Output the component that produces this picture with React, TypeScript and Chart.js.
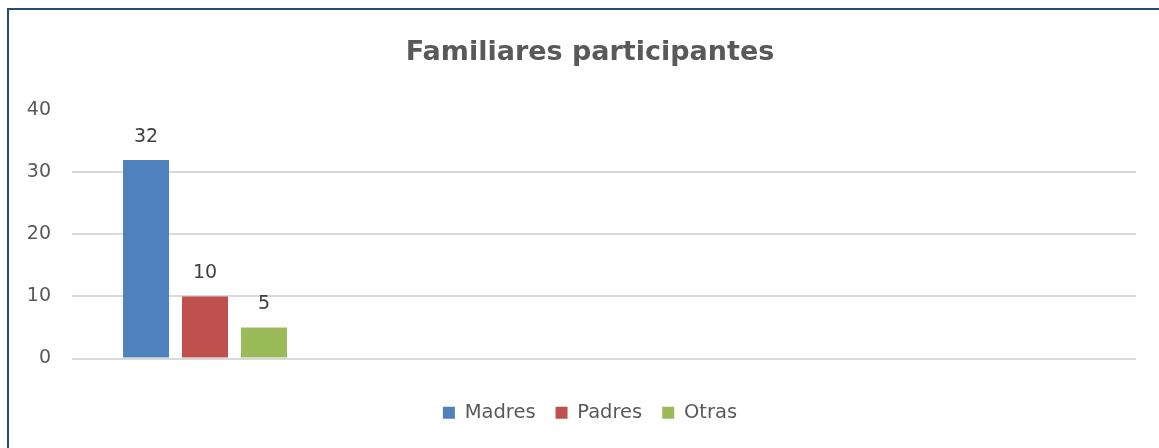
import React, { useEffect, useRef } from "react";
import { Chart, registerables } from "chart.js";

Chart.register(...registerables);

const categories = ["", "", "", ""];
const seriesNames = ["Madres", "Padres", "Otras"];
const madres = [32, null, null, null];
const padres = [10, null, null, null];
const otras = [5, null, null, null];
const yTicks = [0, 10, 20, 30, 40];
const colors = ["#4F81BD", "#C0504D", "#9BBB59"];
const FONT = "'DejaVu Sans', sans-serif";

const valueLabels = {
  id: "valueLabels",
  afterLayout(chart: any) {
    const y = chart.scales.y;
    if (y) {
      y.left = 0;
      y.width = y.right;
    }
  },
  afterDatasetsDraw(chart: any) {
    const ctx = chart.ctx;
    ctx.save();
    ctx.font = `19px ${FONT}`;
    ctx.fillStyle = "#404040";
    ctx.textAlign = "center";
    ctx.textBaseline = "alphabetic";
    chart.data.datasets.forEach((ds: any, i: number) => {
      const meta = chart.getDatasetMeta(i);
      meta.data.forEach((el: any, j: number) => {
        const v = ds.data[j];
        if (v === null || v === undefined) return;
        ctx.fillText(String(v), el.x, el.y - 18);
      });
    });
    ctx.restore();
  },
};

export default function App() {
  const ref = useRef<HTMLCanvasElement>(null);
  useEffect(() => {
    if (!ref.current) return;
    const chart = new Chart(ref.current, {
      type: "bar",
      data: {
        labels: categories,
        datasets: [madres, padres, otras].map((d, i) => ({
          label: seriesNames[i],
          data: d,
          backgroundColor: colors[i],
          borderWidth: 0,
          categoryPercentage: 0.665,
          barPercentage: 0.78,
        })),
      },
      options: {
        responsive: false,
        animation: false,
        layout: { padding: { left: 44, right: 23, top: 0, bottom: 15.5 } },
        plugins: {
          tooltip: { enabled: false },
          title: {
            display: true,
            text: "Familiares participantes",
            color: "#595959",
            font: { family: FONT, size: 27, weight: "bold", lineHeight: 1.2 },
            padding: { top: 36.5, bottom: 41.5 },
          },
          legend: {
            display: true,
            position: "bottom",
            labels: {
              color: "#595959",
              font: { family: FONT, size: 19.5 },
              boxWidth: 12,
              boxHeight: 12,
              padding: 20,
            },
          },
        },
        scales: {
          x: {
            display: true,
            grid: { display: false },
            border: { display: false },
            ticks: { display: false },
            title: {
              display: true,
              text: "",
              font: { size: 1, lineHeight: 1 },
              padding: { top: 15.5, bottom: 0 },
            },
          },
          y: {
            min: 0,
            max: 40,
            afterFit: (axis: any) => {
              axis.width = 28;
            },
            afterBuildTicks: (axis: any) => {
              axis.ticks = yTicks.map((v) => ({ value: v }));
            },
            border: { display: false },
            grid: {
              drawTicks: false,
              lineWidth: 2,
              color: (c: any) => (c.tick && c.tick.value === 40 ? "rgba(0,0,0,0)" : "#D9D9D9"),
            },
            ticks: {
              padding: 21,
              color: "#595959",
              font: { family: FONT, size: 19 },
            },
          },
        },
      },
      plugins: [valueLabels],
    });
    return () => chart.destroy();
  }, []);

  return (
    <div
      style={{
        position: "fixed",
        left: 0,
        top: 0,
        width: 1159,
        height: 448,
        overflow: "hidden",
        background: "#fff",
      }}
    >
      <canvas ref={ref} width={1159} height={448} style={{ display: "block", width: 1159, height: 448 }} />
      <div
        style={{
          position: "absolute",
          left: 7,
          top: 8,
          width: 2000,
          height: 2000,
          borderTop: "2px solid #264A7E",
          borderLeft: "2px solid #264A7E",
          pointerEvents: "none",
        }}
      />
    </div>
  );
}
